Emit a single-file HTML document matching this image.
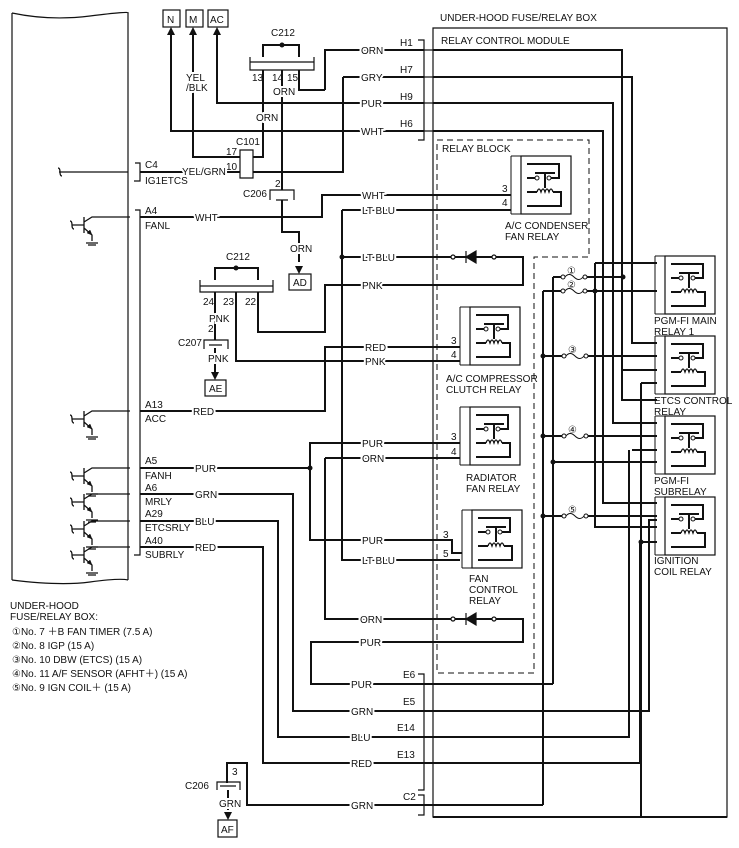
<!DOCTYPE html>
<html><head><meta charset="utf-8"><style>
html,body{margin:0;padding:0;background:#fff}
svg{display:block}
text{font-family:"Liberation Sans","DejaVu Sans","Noto Sans CJK JP",sans-serif;font-size:10px;fill:#111}
.l{stroke:#fff;stroke-width:4;paint-order:stroke}
</style></head><body>
<svg width="739" height="848" viewBox="0 0 739 848" xmlns="http://www.w3.org/2000/svg">
<defs>
<g id="rly" fill="none" stroke="#111">
  <path d="M0,0 V58 M0,0 H10 M0,58 H10" stroke-width="1"/>
  <rect x="10" y="0" width="50" height="58" stroke-width="1.2"/>
  <path d="M16,22 H24 M40,22 H48 V8 H16 M24,17 H44 M34,17 V32 M16,36 H26 M42,36 H50 V50 H16" stroke-width="2"/>
  <circle cx="26" cy="22" r="2" stroke-width="1" fill="#fff"/>
  <circle cx="38" cy="22" r="2" stroke-width="1" fill="#fff"/>
  <path d="M26,36 q2,-6 4,0 q2,-6 4,0 q2,-6 4,0 q2,-6 4,0" stroke-width="1.3"/>
</g>
<g id="tr" fill="none" stroke="#111">
  <path d="M-20,-4 q2,0 2,4 q0,4 2,4 M-18,0 H-6 M-6,-8 V8 M-6,-3 L2,-8 H40 M-6,3 L2,10 V16 M-4,18 H8 M-2,20 H6" stroke-width="1.3"/>
  <path d="M2,10 l-5,-2 l3,-3 z" fill="#111" stroke-width="0.5"/>
</g>
<g id="fuse" fill="none" stroke="#111" stroke-width="1">
  <circle cx="0" cy="0" r="2" fill="#fff"/><circle cx="22" cy="0" r="2" fill="#fff"/>
  <path d="M2,0 q4,-5 9,0 t9,0"/>
</g>
</defs>

<g fill="none" stroke="#111" stroke-width="1.2">
<path d="M12,13 Q50,21 90,16 T128,13"/>
<path d="M12,13 V580 M128,13 V580"/>
<path d="M12,580 Q60,586 90,582 T128,580"/>
<path d="M135,163 H140 V181 H134"/>
<path d="M135,210 H140 V555 H134"/>
</g>
<g fill="none" stroke="#111" stroke-width="1.3">
<path d="M58,168 q2,0 2,4 q0,4 2,4 M59,172 H128"/>
</g>
<use href="#tr" transform="translate(90,225)"/>
<use href="#tr" transform="translate(90,419)"/>
<use href="#tr" transform="translate(90,476)"/>
<use href="#tr" transform="translate(90,502)"/>
<use href="#tr" transform="translate(90,529)"/>
<use href="#tr" transform="translate(90,555)"/>

<g fill="none" stroke="#111" stroke-width="1.2">
<path d="M433,28 H727 V817 H433 Z"/>
<path d="M418,40 H424 V140 H418"/>
<path d="M418,674 H424 V790 H418"/>
<path d="M418,795 H424 V815 H418"/>
<path d="M424,50 H433 M424,77 H433 M424,103 H433 M424,131 H433"/>
</g>
<path d="M437,140 H589 V257 H534 V673 H437 Z" fill="none" stroke="#111" stroke-width="1" stroke-dasharray="6,4"/>

<g fill="none" stroke="#111" stroke-width="2">
<path d="M433,50 H622 V400 H657"/>
<path d="M433,77 H632 V343 H657"/>
<path d="M433,103 H613 V423 H657"/>
<path d="M433,131 H603 V503 H657"/>
<path d="M171,30 V131 H424"/>
<path d="M193,30 V157 H240"/>
<path d="M217,30 V103 H424"/>
<path d="M325,90 H299 V70 M325,90 V50 H424"/>
<path d="M263,70 V157 H253"/>
<path d="M343,77 H424 M343,77 V172 H253"/>
<path d="M140,172 H240"/>
<path d="M282,70 V190 M282,200 V232 H299 V262"/>
<path d="M140,217 H322 V195 H511"/>
<path d="M342,210 H511 M342,210 V560 H460"/>
<path d="M342,257 H523 V285 H325 V332 H258 V292"/>
<path d="M236,292 V361 H460"/>
<path d="M215,292 V340 M215,348 V372"/>
<path d="M140,411 H325 V347 H460"/>
<path d="M140,468 H310 V443 H460 M310,468 V540 H452 V553 H462"/>
<path d="M325,458 H460 M325,458 V619 H523 V642 H311 V684 H553"/>
<path d="M140,494 H293 V711 H649 V520 H657"/>
<path d="M140,521 H278 V737 H629 V450"/>
<path d="M140,547 H263 V763 H640 V542 H657"/>
<path d="M227,783 V763 H247 V805 H543"/>
<path d="M228,790 V810"/>
<path d="M553,684 V277 M543,291 V805"/>
<path d="M595,263 H657 M595,263 V527 H657"/>
<path d="M543,291 H564 M585,291 H657"/>
<path d="M553,277 H563 M585,277 H623"/>
<path d="M543,356 H564 M586,356 H657"/>
<path d="M543,436 H564 M586,436 H657"/>
<path d="M553,462 H657"/>
<path d="M543,516 H564 M586,516 H657"/>
<path d="M623,370 H657 M632,450 H657"/>
<path d="M641,383 H657 M641,383 V817"/>
<path d="M433,817 H727"/>
</g>
<g fill="#111">
<circle cx="342" cy="257" r="2.5"/><circle cx="310" cy="468" r="2.5"/>
<circle cx="623" cy="277" r="2.5"/><circle cx="595" cy="291" r="2.5"/>
<circle cx="543" cy="356" r="2.5"/><circle cx="543" cy="436" r="2.5"/>
<circle cx="543" cy="516" r="2.5"/><circle cx="553" cy="462" r="2.5"/>
<circle cx="641" cy="542" r="2.5"/><circle cx="282" cy="45" r="2.5"/>
<circle cx="236" cy="268" r="2.5"/>
</g>
<use href="#fuse" transform="translate(563,277)"/>
<use href="#fuse" transform="translate(563,291)"/>
<use href="#fuse" transform="translate(564,356)"/>
<use href="#fuse" transform="translate(564,436)"/>
<use href="#fuse" transform="translate(564,516)"/>

<g stroke="#111" stroke-width="1.2">
<circle cx="453" cy="257" r="2" fill="#fff"/><circle cx="494" cy="257" r="2" fill="#fff"/>
<path d="M466,257 L476,251 V263 Z M466,251 V263" fill="#111"/>
<circle cx="453" cy="619" r="2" fill="#fff"/><circle cx="494" cy="619" r="2" fill="#fff"/>
<path d="M466,619 L476,613 V625 Z M466,613 V625" fill="#111"/>
</g>

<g fill="none" stroke="#111" stroke-width="1.2">
<path d="M250,57 V70 H314 V57 M250,62 H314"/>
<path d="M263,57 V45 H299 V57" stroke-width="2"/>
<path d="M200,280 V292 H273 V280 M200,286 H273"/>
<path d="M215,280 V268 H258 V280" stroke-width="2"/>
<path d="M240,150 H253 V178 H240 Z"/>
<path d="M270,200 V190 H294 V200 M276,200 H288"/>
<path d="M204,349 V340 H228 V349 M209,345 H222"/>
<path d="M217,790 V782 H240 V790 M220,786 H236"/>
<rect x="163" y="10" width="17" height="17"/><rect x="186" y="10" width="17" height="17"/><rect x="208" y="10" width="20" height="17"/>
<rect x="289" y="274" width="22" height="16"/><rect x="205" y="380" width="21" height="16"/><rect x="218" y="820" width="19" height="17"/>
</g>
<g fill="#111">
<path d="M171,27 l-4,8 h8z M193,27 l-4,8 h8z M217,27 l-4,8 h8z M299,274 l-4,-8 h8z M215,380 l-4,-8 h8z M228,820 l-4,-8 h8z"/>
</g>

<use href="#rly" transform="translate(511,156)"/>
<use href="#rly" transform="translate(460,307)"/>
<use href="#rly" transform="translate(460,407)"/>
<use href="#rly" transform="translate(462,510)"/>
<use href="#rly" transform="translate(655,256)"/>
<use href="#rly" transform="translate(655,336)"/>
<use href="#rly" transform="translate(655,416)"/>
<use href="#rly" transform="translate(655,497)"/>

<text x="440" y="21">UNDER-HOOD FUSE/RELAY BOX</text>
<text x="441" y="44">RELAY CONTROL MODULE</text>
<text x="442" y="152">RELAY BLOCK</text>
<text x="505" y="229">A/C CONDENSER</text><text x="505" y="240">FAN RELAY</text>
<text x="446" y="382">A/C COMPRESSOR</text><text x="446" y="393">CLUTCH RELAY</text>
<text x="466" y="481">RADIATOR</text><text x="466" y="492">FAN RELAY</text>
<text x="469" y="582">FAN</text><text x="469" y="593">CONTROL</text><text x="469" y="604">RELAY</text>
<text x="654" y="324">PGM-FI MAIN</text><text x="654" y="335">RELAY 1</text>
<text x="654" y="404">ETCS CONTROL</text><text x="654" y="415">RELAY</text>
<text x="654" y="484">PGM-FI</text><text x="654" y="495">SUBRELAY</text>
<text x="654" y="564">IGNITION</text><text x="654" y="575">COIL RELAY</text>
<text x="502" y="192">3</text><text x="502" y="206">4</text>
<text x="451" y="344">3</text><text x="451" y="358">4</text>
<text x="451" y="440">3</text><text x="451" y="455">4</text>
<text x="443" y="538">3</text><text x="443" y="557">5</text>
<text x="567" y="274" font-size="9">①</text><text x="567" y="288" font-size="9">②</text>
<text x="568" y="353" font-size="9">③</text><text x="568" y="433" font-size="9">④</text><text x="568" y="513" font-size="9">⑤</text>

<text x="167" y="23">N</text><text x="189" y="23">M</text><text x="210" y="23">AC</text>
<text x="271" y="36">C212</text>
<text x="252" y="81">13</text><text x="272" y="81">14</text><text x="287" y="81">15</text>
<text x="273" y="95" class="l">ORN</text>
<text x="256" y="121" class="l">ORN</text>
<text x="186" y="81" class="l">YEL</text><text x="186" y="91" class="l">/BLK</text>
<text x="236" y="145">C101</text><text x="226" y="155">17</text><text x="226" y="170">10</text>
<text x="243" y="197">C206</text><text x="275" y="187">2</text>
<text x="290" y="252" class="l">ORN</text>
<text x="293" y="286">AD</text>
<text x="226" y="260">C212</text>
<text x="203" y="305">24</text><text x="223" y="305">23</text><text x="245" y="305">22</text>
<text x="209" y="322" class="l">PNK</text><text x="208" y="332">2</text>
<text x="178" y="346">C207</text>
<text x="208" y="362" class="l">PNK</text>
<text x="209" y="392">AE</text>
<text x="145" y="168">C4</text><text x="145" y="184">IG1ETCS</text>
<text x="182" y="175" class="l">YEL/GRN</text>
<text x="145" y="214">A4</text><text x="145" y="229">FANL</text><text x="195" y="221" class="l">WHT</text>
<text x="145" y="408">A13</text><text x="145" y="422">ACC</text><text x="193" y="415" class="l">RED</text>
<text x="145" y="464">A5</text><text x="145" y="479">FANH</text><text x="195" y="472" class="l">PUR</text>
<text x="145" y="491">A6</text><text x="145" y="505">MRLY</text><text x="195" y="498" class="l">GRN</text>
<text x="145" y="517">A29</text><text x="145" y="531">ETCSRLY</text><text x="195" y="525" class="l">BLU</text>
<text x="145" y="544">A40</text><text x="145" y="558">SUBRLY</text><text x="195" y="551" class="l">RED</text>

<text x="361" y="54" class="l">ORN</text><text x="361" y="81" class="l">GRY</text>
<text x="361" y="107" class="l">PUR</text><text x="361" y="135" class="l">WHT</text>
<text x="400" y="46">H1</text><text x="400" y="73">H7</text><text x="400" y="100">H9</text><text x="400" y="127">H6</text>
<text x="362" y="199" class="l">WHT</text><text x="362" y="214" class="l">LT BLU</text>
<text x="362" y="261" class="l">LT BLU</text><text x="362" y="289" class="l">PNK</text>
<text x="365" y="351" class="l">RED</text><text x="365" y="365" class="l">PNK</text>
<text x="362" y="447" class="l">PUR</text><text x="362" y="462" class="l">ORN</text>
<text x="362" y="544" class="l">PUR</text><text x="362" y="564" class="l">LT BLU</text>
<text x="360" y="623" class="l">ORN</text><text x="360" y="646" class="l">PUR</text>
<text x="351" y="688" class="l">PUR</text><text x="351" y="715" class="l">GRN</text>
<text x="351" y="741" class="l">BLU</text><text x="351" y="767" class="l">RED</text>
<text x="351" y="809" class="l">GRN</text>
<text x="403" y="678">E6</text><text x="403" y="705">E5</text><text x="397" y="731">E14</text><text x="397" y="758">E13</text><text x="403" y="800">C2</text>
<text x="232" y="775">3</text><text x="185" y="789">C206</text>
<text x="219" y="807" class="l">GRN</text>
<text x="221" y="833">AF</text>

<text x="10" y="609">UNDER-HOOD</text><text x="10" y="620">FUSE/RELAY BOX:</text>
<text x="12" y="635">①No. 7 ＋B FAN TIMER (7.5 A)</text>
<text x="12" y="649">②No. 8 IGP (15 A)</text>
<text x="12" y="663">③No. 10 DBW (ETCS) (15 A)</text>
<text x="12" y="677">④No. 11 A/F SENSOR (AFHT＋) (15 A)</text>
<text x="12" y="691">⑤No. 9 IGN COIL＋ (15 A)</text>
</svg>
</body></html>
